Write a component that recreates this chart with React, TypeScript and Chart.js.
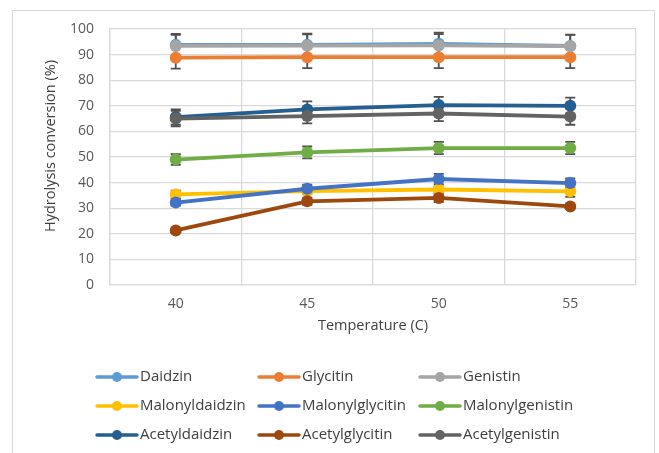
import React, { useEffect, useRef } from "react";
import { Chart, registerables } from "chart.js";

Chart.register(...registerables);

const temperatures = ["40", "45", "50", "55"];

const daidzin = [93.8, 93.8, 94.2, 93.4];
const glycitin = [88.8, 89.0, 89.0, 89.0];
const genistin = [93.4, 93.5, 93.6, 93.3];
const malonyldaidzin = [35.4, 36.7, 37.3, 36.6];
const malonylglycitin = [32.2, 37.6, 41.4, 39.8];
const malonylgenistin = [49.0, 51.8, 53.5, 53.5];
const acetyldaidzin = [65.6, 68.6, 70.3, 70.0];
const acetylglycitin = [21.3, 32.7, 34.0, 30.7];
const acetylgenistin = [65.0, 66.0, 67.0, 65.8];

const daidzinErr = [4.3, 4.4, 4.4, 4.4];
const glycitinErr = [4.3, 4.3, 4.3, 4.3];
const genistinErr = [4.3, 4.4, 4.4, 4.4];
const malonyldaidzinErr = [1.5, 1.2, 1.2, 2.2];
const malonylglycitinErr = [1.2, 1.6, 2.0, 1.8];
const malonylgenistinErr = [2.1, 2.3, 2.4, 2.4];
const acetyldaidzinErr = [3.0, 3.1, 3.2, 3.2];
const acetylglycitinErr = [0.6, 1.4, 1.6, 1.0];
const acetylgenistinErr = [3.0, 2.9, 3.0, 3.2];

const seriesNames = [
  "Daidzin", "Glycitin", "Genistin",
  "Malonyldaidzin", "Malonylglycitin", "Malonylgenistin",
  "Acetyldaidzin", "Acetylglycitin", "Acetylgenistin",
];
const seriesValues = [
  daidzin, glycitin, genistin,
  malonyldaidzin, malonylglycitin, malonylgenistin,
  acetyldaidzin, acetylglycitin, acetylgenistin,
];
const seriesErrors = [
  daidzinErr, glycitinErr, genistinErr,
  malonyldaidzinErr, malonylglycitinErr, malonylgenistinErr,
  acetyldaidzinErr, acetylglycitinErr, acetylgenistinErr,
];
const seriesColors = [
  "#5B9BD5", "#ED7D31", "#A5A5A5",
  "#FFC000", "#4472C4", "#70AD47",
  "#255E91", "#9E480E", "#636363",
];

const FONT = "'Open Sans', 'DejaVu Sans', sans-serif";
const TEXT = "#595959";

const errorBarPlugin = {
  id: "errorBars",
  beforeDatasetsDraw(chart: any) {
    const ctx = chart.ctx;
    const x = chart.scales.x;
    const y = chart.scales.y;
    ctx.save();
    ctx.strokeStyle = "#505050";
    ctx.lineWidth = 1.8;
    seriesValues.forEach((vals, si) => {
      const errs = seriesErrors[si];
      vals.forEach((v, i) => {
        const px = x.getPixelForValue(i);
        const top = y.getPixelForValue(v + errs[i]);
        const bot = y.getPixelForValue(v - errs[i]);
        ctx.beginPath();
        ctx.moveTo(px, top);
        ctx.lineTo(px, bot);
        ctx.moveTo(px - 5, top);
        ctx.lineTo(px + 5, top);
        ctx.moveTo(px - 5, bot);
        ctx.lineTo(px + 5, bot);
        ctx.stroke();
      });
    });
    ctx.restore();
  },
};

const textPlugin = {
  id: "customText",
  afterDraw(chart: any) {
    const ctx = chart.ctx;
    const colX = [97, 259, 420];
    const rowY = [377, 406, 435];
    ctx.save();
    ctx.font = `15px ${FONT}`;
    ctx.textBaseline = "middle";
    ctx.textAlign = "left";
    seriesNames.forEach((name, i) => {
      const cx = colX[i % 3];
      const cy = rowY[Math.floor(i / 3)];
      ctx.strokeStyle = seriesColors[i];
      ctx.lineWidth = 3.5;
      ctx.lineCap = "round";
      ctx.beginPath();
      ctx.moveTo(cx, cy);
      ctx.lineTo(cx + 40, cy);
      ctx.stroke();
      ctx.fillStyle = seriesColors[i];
      ctx.beginPath();
      ctx.arc(cx + 20, cy, 5, 0, Math.PI * 2);
      ctx.fill();
      ctx.fillStyle = "#404040";
      ctx.fillText(name, cx + 43, cy);
    });
    // y-axis title
    ctx.translate(51, 146);
    ctx.rotate(-Math.PI / 2);
    ctx.textAlign = "center";
    ctx.font = `14.5px ${FONT}`;
    ctx.fillStyle = "#404040";
    ctx.fillText("Hydrolysis conversion (%)", 0, 0);
    ctx.restore();
  },
};

export default function App() {
  const canvasRef = useRef<HTMLCanvasElement | null>(null);

  useEffect(() => {
    const canvas = canvasRef.current;
    if (!canvas) return;
    const chart = new Chart(canvas, {
      type: "line",
      data: {
        labels: temperatures,
        datasets: seriesNames.map((name, i) => ({
          label: name,
          data: seriesValues[i],
          order: seriesNames.length - 1 - i,
          borderColor: seriesColors[i],
          backgroundColor: seriesColors[i],
          borderWidth: 3.8,
          pointRadius: 6,
          pointHoverRadius: 6,
          pointBorderWidth: 0,
          tension: 0,
          fill: false,
        })),
      },
      options: {
        responsive: false,
        animation: false,
        events: [],
        layout: { padding: { left: 0, right: 23, top: 29, bottom: 0 } },
        plugins: {
          legend: { display: false },
          tooltip: { enabled: false },
        },
        scales: {
          x: {
            offset: true,
            grid: { color: "#D9D9D9", lineWidth: 1.3, drawTicks: false, offset: true },
            border: { color: "#D9D9D9", width: 1.3 },
            ticks: { color: TEXT, font: { family: FONT, size: 14 }, padding: 11 },
            title: {
              display: true,
              text: "Temperature (C)",
              color: "#404040",
              font: { family: FONT, size: 14.5 },
              padding: { top: 0, bottom: 118 },
            },
            afterFit(scale: any) {
              scale.height = 168;
            },
          },
          y: {
            min: 0,
            max: 100,
            grid: { color: "#D9D9D9", lineWidth: 1.3, drawTicks: false },
            border: { color: "#D9D9D9", width: 1.3 },
            ticks: { stepSize: 10, color: TEXT, font: { family: FONT, size: 14 }, padding: 16 },
            title: { display: false },
            afterFit(scale: any) {
              scale.width = 110;
            },
          },
        },
      },
      plugins: [errorBarPlugin, textPlugin],
    });
    return () => chart.destroy();
  }, []);

  return (
    <div style={{ position: "fixed", left: 0, top: 0, width: 659, height: 453, overflow: "hidden", background: "#fff" }}>
      <div
        style={{
          position: "absolute",
          left: 12,
          top: 10,
          width: 643,
          height: 470,
          border: "1px solid #D9D9D9",
          boxSizing: "border-box",
        }}
      />
      <canvas
        ref={canvasRef}
        width={659}
        height={453}
        style={{ position: "absolute", left: 0, top: 0, width: 659, height: 453 }}
      />
    </div>
  );
}
